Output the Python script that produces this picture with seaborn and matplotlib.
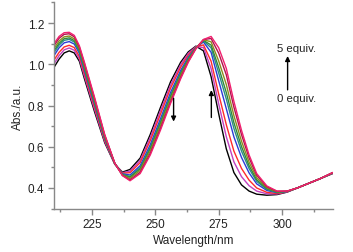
# UV-vis titration spectra, 0 -> 5 equiv.
import pandas as pd
import matplotlib
matplotlib.use("Agg")
import matplotlib.pyplot as plt
import seaborn as sns
from matplotlib.ticker import MultipleLocator

wavelength = [210, 212, 214, 216, 218, 220, 222, 226, 230, 234, 237, 240, 244, 248, 252, 256, 260, 263,
              266, 269, 272, 275, 278, 281, 284, 287, 290, 294, 298, 302, 306, 310, 315, 320]

abs_0 = [0.985, 1.025, 1.055, 1.065, 1.055, 1.015, 0.930, 0.770, 0.620, 0.515, 0.477, 0.490, 0.545, 0.660, 0.790, 0.915, 1.010, 1.060,
         1.088, 1.065, 0.940, 0.760, 0.590, 0.475, 0.415, 0.385, 0.370, 0.365, 0.368, 0.380, 0.400, 0.420, 0.445, 0.470]
abs_1 = [1.002, 1.042, 1.070, 1.079, 1.068, 1.026, 0.942, 0.781, 0.626, 0.516, 0.474, 0.482, 0.534, 0.645, 0.774, 0.899, 0.998, 1.053,
         1.086, 1.081, 0.979, 0.808, 0.649, 0.527, 0.455, 0.411, 0.385, 0.372, 0.371, 0.381, 0.400, 0.420, 0.445, 0.471]
abs_2 = [1.020, 1.058, 1.084, 1.092, 1.081, 1.038, 0.954, 0.791, 0.632, 0.517, 0.472, 0.474, 0.523, 0.630, 0.757, 0.884, 0.986, 1.045,
         1.084, 1.094, 1.015, 0.856, 0.707, 0.579, 0.495, 0.438, 0.400, 0.379, 0.373, 0.382, 0.400, 0.420, 0.445, 0.472]
abs_3 = [1.042, 1.080, 1.104, 1.110, 1.098, 1.053, 0.970, 0.805, 0.640, 0.518, 0.469, 0.463, 0.508, 0.610, 0.735, 0.863, 0.970, 1.035,
         1.082, 1.108, 1.058, 0.920, 0.785, 0.648, 0.548, 0.473, 0.420, 0.388, 0.377, 0.383, 0.400, 0.420, 0.445, 0.473]
abs_4 = [1.056, 1.093, 1.116, 1.121, 1.108, 1.062, 0.980, 0.813, 0.645, 0.518, 0.466, 0.456, 0.499, 0.598, 0.722, 0.850, 0.960, 1.029,
         1.080, 1.113, 1.080, 0.958, 0.832, 0.689, 0.579, 0.494, 0.432, 0.393, 0.379, 0.383, 0.400, 0.420, 0.445, 0.473]
abs_5 = [1.066, 1.102, 1.124, 1.128, 1.115, 1.068, 0.986, 0.819, 0.648, 0.519, 0.465, 0.452, 0.493, 0.590, 0.713, 0.842, 0.954, 1.025,
         1.079, 1.116, 1.093, 0.984, 0.863, 0.717, 0.601, 0.508, 0.440, 0.397, 0.380, 0.384, 0.400, 0.420, 0.445, 0.474]
abs_6 = [1.077, 1.113, 1.133, 1.137, 1.123, 1.075, 0.994, 0.826, 0.652, 0.519, 0.463, 0.446, 0.485, 0.580, 0.702, 0.831, 0.946, 1.020,
         1.078, 1.119, 1.109, 1.016, 0.902, 0.751, 0.627, 0.525, 0.450, 0.401, 0.382, 0.384, 0.400, 0.420, 0.445, 0.474]
abs_7 = [1.091, 1.126, 1.145, 1.148, 1.133, 1.084, 1.004, 0.834, 0.657, 0.520, 0.461, 0.439, 0.476, 0.568, 0.689, 0.818, 0.936, 1.014,
         1.076, 1.120, 1.125, 1.054, 0.949, 0.792, 0.659, 0.546, 0.462, 0.406, 0.384, 0.385, 0.400, 0.420, 0.445, 0.475]
abs_8 = [1.100, 1.135, 1.153, 1.155, 1.140, 1.090, 1.010, 0.840, 0.660, 0.520, 0.460, 0.435, 0.470, 0.560, 0.680, 0.810, 0.930, 1.010,
         1.075, 1.120, 1.135, 1.080, 0.980, 0.820, 0.680, 0.560, 0.470, 0.410, 0.385, 0.385, 0.400, 0.420, 0.445, 0.475]

equiv = ["0", "0.5", "1", "1.5", "2", "2.5", "3", "4", "5"]
spectra = [abs_0, abs_1, abs_2, abs_3, abs_4, abs_5, abs_6, abs_7, abs_8]
colors = ["#000000", "#C040C0", "#FF2A2A", "#2B3BD6", "#2A8A8A",
          "#2E8B3A", "#8C8C1E", "#B0144C", "#F0206E"]

rows = []
for eq, ys in zip(equiv, spectra):
    for x, y in zip(wavelength, ys):
        rows.append({"wl": x, "abs": y, "equiv": eq})
df = pd.DataFrame(rows)

sns.set_style("ticks")
plt.rcParams["font.family"] = ["Liberation Sans", "DejaVu Sans"]

fig = plt.figure(figsize=(3.53, 2.53), dpi=100)
ax = fig.add_axes([0.153, 0.1715, 0.7895, 0.815])

sns.lineplot(data=df, x="wl", y="abs", hue="equiv", hue_order=equiv,
             palette=colors, sort=False, legend=False, linewidth=1.0, ax=ax)

ax.set_xlim(210, 320)
ax.set_ylim(0.3, 1.3)
ax.xaxis.set_minor_locator(MultipleLocator(12.5))
ax.yaxis.set_minor_locator(MultipleLocator(0.1))
ax.set_xticks([225, 250, 275, 300])
ax.set_yticks([0.4, 0.6, 0.8, 1.0, 1.2])
ax.set_yticklabels(["0.4", "0.6", "0.8", "1.0", "1.2"])

for side in ["top", "right"]:
    ax.spines[side].set_visible(False)
for side in ["left", "bottom"]:
    ax.spines[side].set_color("#888888")
    ax.spines[side].set_linewidth(1.0)
ax.tick_params(which="major", direction="out", length=4, width=1, color="#888888",
               labelsize=8.5, labelcolor="#222222", pad=3)
ax.tick_params(which="minor", direction="out", length=2.5, width=1, color="#888888")

ax.set_xlabel("Wavelength/nm", fontsize=8.5, color="#222222", labelpad=3)
ax.set_ylabel("Abs./a.u.", fontsize=8.5, color="#222222", labelpad=3)

arrow = dict(arrowstyle="-|>", color="black", lw=1.0, mutation_scale=7, shrinkA=0, shrinkB=0)
ax.annotate("", xy=(257.2, 0.722), xytext=(257.2, 0.835), arrowprops=arrow)
ax.annotate("", xy=(272.1, 0.875), xytext=(272.1, 0.742), arrowprops=arrow)
ax.annotate("", xy=(302.2, 1.04), xytext=(302.2, 0.876), arrowprops=arrow)
ax.text(305.8, 1.081, "5 equiv.", fontsize=8.2, ha="center", va="center", color="#222222")
ax.text(305.8, 0.836, "0 equiv.", fontsize=8.2, ha="center", va="center", color="#222222")

fig.savefig("out.png", dpi=100)
